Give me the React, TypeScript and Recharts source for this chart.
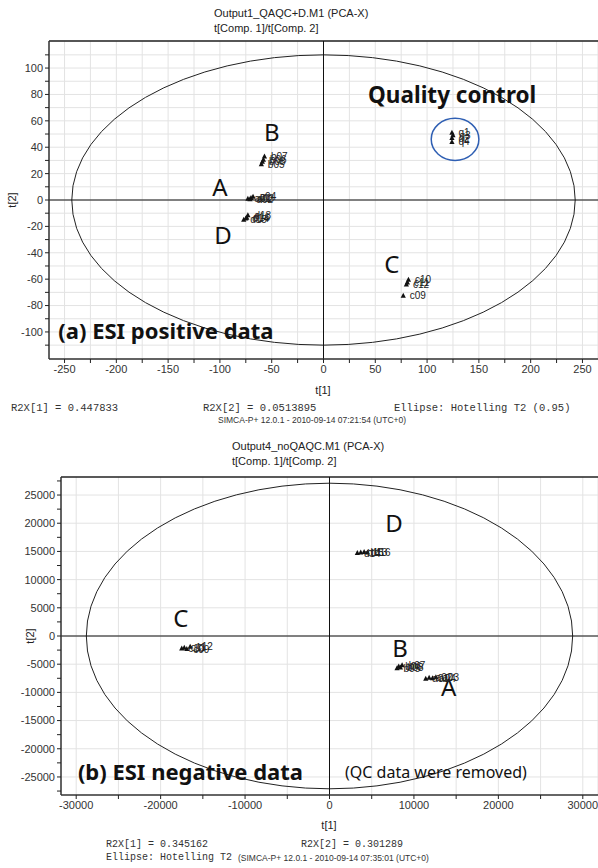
import React from 'react';
import {
  ScatterChart,
  Scatter,
  XAxis,
  YAxis,
  CartesianGrid,
  ReferenceLine,
  ReferenceArea,
  ReferenceDot,
  LabelList,
} from 'recharts';

// ---- (a) ESI positive data ----
const posA = [
  { name: 'a01', x: -73, y: 1 },
  { name: 'a02', x: -71, y: 0.5 },
  { name: 'a03', x: -70, y: 1.5 },
  { name: 'a04', x: -68, y: 2.5 },
];
const posB = [
  { name: 'b05', x: -60, y: 27 },
  { name: 'b08', x: -59, y: 29 },
  { name: 'b06', x: -58, y: 30.5 },
  { name: 'b07', x: -57, y: 33 },
];
const posC = [
  { name: 'c12', x: 80, y: -64 },
  { name: 'c11', x: 81, y: -62.5 },
  { name: 'c10', x: 82, y: -60.5 },
  { name: 'c09', x: 77, y: -72.5 },
];
const posD = [
  { name: 'd15', x: -77, y: -15 },
  { name: 'd14', x: -75, y: -14 },
  { name: 'd16', x: -74, y: -13.5 },
  { name: 'd13', x: -73, y: -11.5 },
];
const posQC = [
  { name: 'q4', x: 124, y: 44 },
  { name: 'q2', x: 124, y: 47 },
  { name: 'q3', x: 125, y: 49 },
  { name: 'q1', x: 124, y: 51 },
];
const posXTicks = [-250, -225, -200, -175, -150, -125, -100, -75, -50, -25, 0, 25, 50, 75, 100, 125, 150, 175, 200, 225, 250];
const posYTicks = [-110, -100, -90, -80, -70, -60, -50, -40, -30, -20, -10, 0, 10, 20, 30, 40, 50, 60, 70, 80, 90, 100, 110];

// ---- (b) ESI negative data ----
const negA = [
  { name: 'a01', x: 11400, y: -7600 },
  { name: 'a02', x: 11800, y: -7400 },
  { name: 'a04', x: 12200, y: -7500 },
  { name: 'a03', x: 12600, y: -7300 },
];
const negB = [
  { name: 'b05', x: 8000, y: -5700 },
  { name: 'b06', x: 8200, y: -5400 },
  { name: 'b08', x: 8400, y: -5600 },
  { name: 'b07', x: 8600, y: -5200 },
];
const negC = [
  { name: 'c10', x: -17500, y: -2200 },
  { name: 'c11', x: -17200, y: -2100 },
  { name: 'c09', x: -16900, y: -2300 },
  { name: 'c12', x: -16500, y: -1900 },
];
const negD = [
  { name: 'd14', x: 3300, y: 14700 },
  { name: 'd15', x: 3700, y: 14800 },
  { name: 'd13', x: 4100, y: 14900 },
  { name: 'd16', x: 4500, y: 14800 },
];
const negXTicks = [-30000, -25000, -20000, -15000, -10000, -5000, 0, 5000, 10000, 15000, 20000, 25000, 30000];
const negYTicks = [-27500, -25000, -22500, -20000, -17500, -15000, -12500, -10000, -7500, -5000, -2500, 0, 2500, 5000, 7500, 10000, 12500, 15000, 17500, 20000, 22500, 25000, 27500];
const negYGrid = [-25000, -20000, -15000, -10000, -5000, 0, 5000, 10000, 15000, 20000, 25000];

const tickFont = { fontSize: 11, fill: '#333', fontFamily: 'Liberation Sans' };
const noteFont = 'Noto Sans';

const Triangle = (props: any) => {
  const { cx, cy } = props;
  if (cx == null || cy == null) return <g />;
  return <polygon points={`${cx},${cy - 3} ${cx - 2.6},${cy + 2} ${cx + 2.6},${cy + 2}`} fill="#111" />;
};

const ellipseShape = (stroke: string, sw: number) => (props: any) => {
  const { x, y, width, height } = props;
  return (
    <ellipse
      cx={x + width / 2}
      cy={y + height / 2}
      rx={Math.abs(width / 2)}
      ry={Math.abs(height / 2)}
      fill="none"
      stroke={stroke}
      strokeWidth={sw}
    />
  );
};

const noteShape = (text: string, size: number, weight: number, anchor: 'start' | 'middle') => (props: any) => (
  <text
    x={props.cx}
    y={props.cy}
    textAnchor={anchor}
    dominantBaseline="central"
    fontFamily={noteFont}
    fontSize={size}
    fontWeight={weight}
    fill="#111"
  >
    {text}
  </text>
);

function Txt({ x, y, anchor = 'start', size = 11, family = 'Liberation Sans', color = '#222', rotate = false, children }: any) {
  const tx = anchor === 'middle' ? '-50%' : anchor === 'end' ? '-100%' : '0';
  return (
    <div
      style={{
        position: 'absolute',
        left: x,
        top: y,
        transform: `translate(${tx}, -50%)${rotate ? ' rotate(-90deg)' : ''}`,
        fontSize: size,
        fontFamily: family,
        color,
        whiteSpace: 'nowrap',
        lineHeight: 1,
      }}
    >
      {children}
    </div>
  );
}

function Group({ data }: { data: any[] }) {
  return (
    <Scatter data={data} shape={<Triangle />} isAnimationActive={false}>
      <LabelList dataKey="name" position="right" offset={2} style={{ fontSize: 10, fill: '#222', fontFamily: 'Liberation Sans' }} />
    </Scatter>
  );
}

function PositiveChart() {
  return (
    <ScatterChart width={598} height={390} margin={{ top: 41, right: 0, bottom: 11, left: 0 }}>
      <CartesianGrid stroke="#e3e3e3" />
      <XAxis
        type="number"
        dataKey="x"
        domain={[-265, 265]}
        ticks={posXTicks}
        interval={0}
        allowDataOverflow
        tickFormatter={(v) => (v % 50 === 0 ? String(v) : '')}
        tick={tickFont}
        tickLine={{ stroke: '#222' }}
        axisLine={{ stroke: '#333', strokeWidth: 1.5 }}
        tickSize={4}
        height={20}
      />
      <YAxis
        type="number"
        dataKey="y"
        domain={[-120.5, 120.5]}
        ticks={posYTicks}
        interval={0}
        allowDataOverflow
        tickFormatter={(v) => (v % 20 === 0 && Math.abs(v) <= 100 ? String(v) : '')}
        tick={tickFont}
        tickLine={{ stroke: '#222' }}
        axisLine={{ stroke: '#333', strokeWidth: 1.5 }}
        tickSize={4}
        width={49}
      />
      <ReferenceLine y={120.5} stroke="#222" strokeWidth={1.5} />
      <ReferenceLine x={0} stroke="#111" />
      <ReferenceLine y={0} stroke="#111" />
      <ReferenceArea x1={-243} x2={243} y1={-110} y2={110} shape={ellipseShape('#222', 1)} />
      <ReferenceArea x1={104} x2={150} y1={30} y2={62} shape={ellipseShape('#2f5fb3', 1.5)} />
      <Group data={posA} />
      <Group data={posB} />
      <Group data={posC} />
      <Group data={posD} />
      <Group data={posQC} />
      <ReferenceDot x={-50} y={52} r={0} shape={noteShape('B', 24, 400, 'middle')} />
      <ReferenceDot x={-100} y={10} r={0} shape={noteShape('A', 24, 400, 'middle')} />
      <ReferenceDot x={-97} y={-26} r={0} shape={noteShape('D', 24, 400, 'middle')} />
      <ReferenceDot x={66} y={-48} r={0} shape={noteShape('C', 24, 400, 'middle')} />
      <ReferenceDot x={43} y={80} r={0} shape={noteShape('Quality control', 22.5, 700, 'start')} />
      <ReferenceDot x={-256} y={-98.5} r={0} shape={noteShape('(a) ESI positive data', 22, 700, 'start')} />
    </ScatterChart>
  );
}

function NegativeChart() {
  return (
    <ScatterChart width={598} height={390} margin={{ top: 47, right: 0, bottom: 5, left: 0 }}>
      <CartesianGrid stroke="#e3e3e3" horizontalValues={negYGrid} />
      <XAxis
        type="number"
        dataKey="x"
        domain={[-31800, 31800]}
        ticks={negXTicks}
        interval={0}
        allowDataOverflow
        tickFormatter={(v) => (v % 10000 === 0 ? String(v) : '')}
        tick={tickFont}
        tickLine={{ stroke: '#222' }}
        axisLine={{ stroke: '#333', strokeWidth: 1.5 }}
        tickSize={4}
        height={20}
      />
      <YAxis
        type="number"
        dataKey="y"
        domain={[-28200, 28200]}
        ticks={negYTicks}
        interval={0}
        allowDataOverflow
        tickFormatter={(v) => (v % 5000 === 0 ? String(v) : '')}
        tick={tickFont}
        tickLine={{ stroke: '#222' }}
        axisLine={{ stroke: '#333', strokeWidth: 1.5 }}
        tickSize={4}
        width={61}
      />
      <ReferenceLine y={28200} stroke="#222" strokeWidth={1.5} />
      <ReferenceLine x={0} stroke="#111" />
      <ReferenceLine y={0} stroke="#111" />
      <ReferenceArea x1={-28800} x2={28800} y1={-27100} y2={27100} shape={ellipseShape('#222', 1)} />
      <Group data={negA} />
      <Group data={negB} />
      <Group data={negC} />
      <Group data={negD} />
      <ReferenceDot x={7640} y={20200} r={0} shape={noteShape('D', 24, 400, 'middle')} />
      <ReferenceDot x={-17600} y={3200} r={0} shape={noteShape('C', 24, 400, 'middle')} />
      <ReferenceDot x={8350} y={-2100} r={0} shape={noteShape('B', 24, 400, 'middle')} />
      <ReferenceDot x={14100} y={-9000} r={0} shape={noteShape('A', 24, 400, 'middle')} />
      <ReferenceDot x={-29800} y={-23900} r={0} shape={noteShape('(b) ESI negative data', 22, 700, 'start')} />
      <ReferenceDot x={1840} y={-24100} r={0} shape={noteShape('(QC data were removed)', 16, 400, 'start')} />
    </ScatterChart>
  );
}

export default function App() {
  const mono = 'Liberation Mono';
  return (
    <div style={{ position: 'absolute', left: 0, top: 0, width: 598, height: 868, background: '#fff', overflow: 'hidden' }}>
      <div style={{ position: 'absolute', left: 0, top: 0 }}>
        <PositiveChart />
      </div>
      <div style={{ position: 'absolute', left: 0, top: 430 }}>
        <NegativeChart />
      </div>

      <Txt x={214} y={13}>Output1_QAQC+D.M1 (PCA-X)</Txt>
      <Txt x={214} y={28}>t[Comp. 1]/t[Comp. 2]</Txt>
      <Txt x={12} y={200} anchor="middle" rotate>t[2]</Txt>
      <Txt x={323} y={390} anchor="middle">t[1]</Txt>
      <Txt x={11} y={408} size={10.5} family={mono} color="#333">R2X[1] = 0.447833</Txt>
      <Txt x={203} y={408} size={10.5} family={mono} color="#333">R2X[2] = 0.0513895</Txt>
      <Txt x={394} y={408} size={10.5} family={mono} color="#333">Ellipse: Hotelling T2 (0.95)</Txt>
      <Txt x={218} y={420} size={8.5} color="#333">SIMCA-P+ 12.0.1 - 2010-09-14 07:21:54 (UTC+0)</Txt>

      <Txt x={232} y={446}>Output4_noQAQC.M1 (PCA-X)</Txt>
      <Txt x={232} y={461}>t[Comp. 1]/t[Comp. 2]</Txt>
      <Txt x={30} y={636} anchor="middle" rotate>t[2]</Txt>
      <Txt x={329} y={825} anchor="middle">t[1]</Txt>
      <Txt x={106} y={845} size={10} family={mono} color="#333">R2X[1] = 0.345162</Txt>
      <Txt x={301} y={845} size={10} family={mono} color="#333">R2X[2] = 0.301289</Txt>
      <Txt x={106} y={858} size={10} family={mono} color="#333">Ellipse: Hotelling T2</Txt>
      <Txt x={238} y={858} size={8.5} color="#333">(SIMCA-P+ 12.0.1 - 2010-09-14 07:35:01 (UTC+0)</Txt>
    </div>
  );
}
